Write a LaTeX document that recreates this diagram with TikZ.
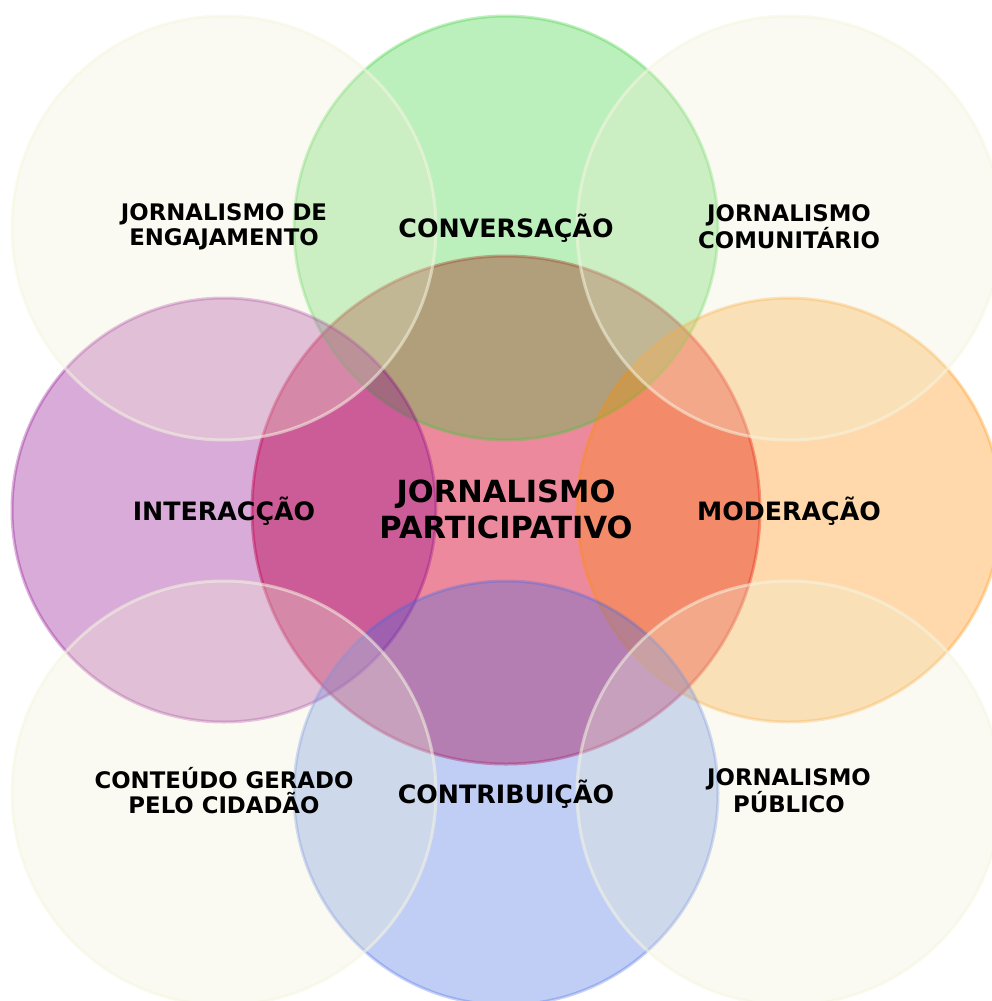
\documentclass[tikz,border=0pt]{standalone}
\usepackage{fontspec}
\setmainfont{DejaVu Sans}
\definecolor{cpink}{RGB}{220,20,60}
\definecolor{cgreen}{RGB}{50,205,50}
\definecolor{cpurple}{RGB}{139,0,139}
\definecolor{corange}{RGB}{255,140,0}
\definecolor{cblue}{RGB}{65,105,225}
\definecolor{cpale}{RGB}{240,240,212}
\definecolor{cpaleedge}{RGB}{245,245,225}
\tikzset{
  big/.style={fill=cpink, fill opacity=0.5, draw=cpink, draw opacity=0.45, line width=3pt},
  outer/.style={fill=#1, fill opacity=0.33, draw=#1, draw opacity=0.3, line width=3pt},
  pale/.style={fill=cpale, fill opacity=0.3, draw=cpaleedge, draw opacity=0.55, line width=3pt},
  lbl/.style={font=\bfseries\fontsize{25.3}{28}\selectfont, text=black, align=center, inner sep=0pt},
  lblsmall/.style={font=\bfseries\fontsize{22.8}{25}\selectfont, text=black, align=center, inner sep=0pt},
  lblcenter/.style={font=\bfseries\fontsize{30.5}{36}\selectfont, text=black, align=center, inner sep=0pt}
}
\begin{document}
\begin{tikzpicture}[x=1pt,y=-1pt]
\useasboundingbox (0,0) rectangle (991,1001);
% center circle
\path[big] (506,510) circle (254);
% outer coloured circles
\path[outer=cgreen] (506,228) circle (212);
\path[outer=cpurple] (224,510) circle (212);
\path[outer=corange] (789,510) circle (212);
\path[outer=cblue] (506,793) circle (212);
% pale corner circles
\path[pale] (224,228) circle (212);
\path[pale] (789,228) circle (212);
\path[pale] (224,793) circle (212);
\path[pale] (789,793) circle (212);
% labels
\node[lblcenter] (center) at (506,509) {JORNALISMO\\PARTICIPATIVO};
\node[lbl] (conv) at (506,228) {CONVERSAÇÃO};
\node[lbl] (inter) at (224,511) {INTERACÇÃO};
\node[lbl] (moder) at (789,511) {MODERAÇÃO};
\node[lbl] (contr) at (506,794) {CONTRIBUIÇÃO};
\node[lblsmall] (engaj) at (224,227) {JORNALISMO DE\\ENGAJAMENTO};
\node[lblsmall] (comun) at (789,227) {JORNALISMO\\COMUNITÁRIO};
\node[lblsmall] (cidad) at (224,791) {CONTEÚDO GERADO\\PELO CIDADÃO};
\node[lblsmall] (publ) at (789,791) {JORNALISMO\\PÚBLICO};
\end{tikzpicture}
\end{document}
